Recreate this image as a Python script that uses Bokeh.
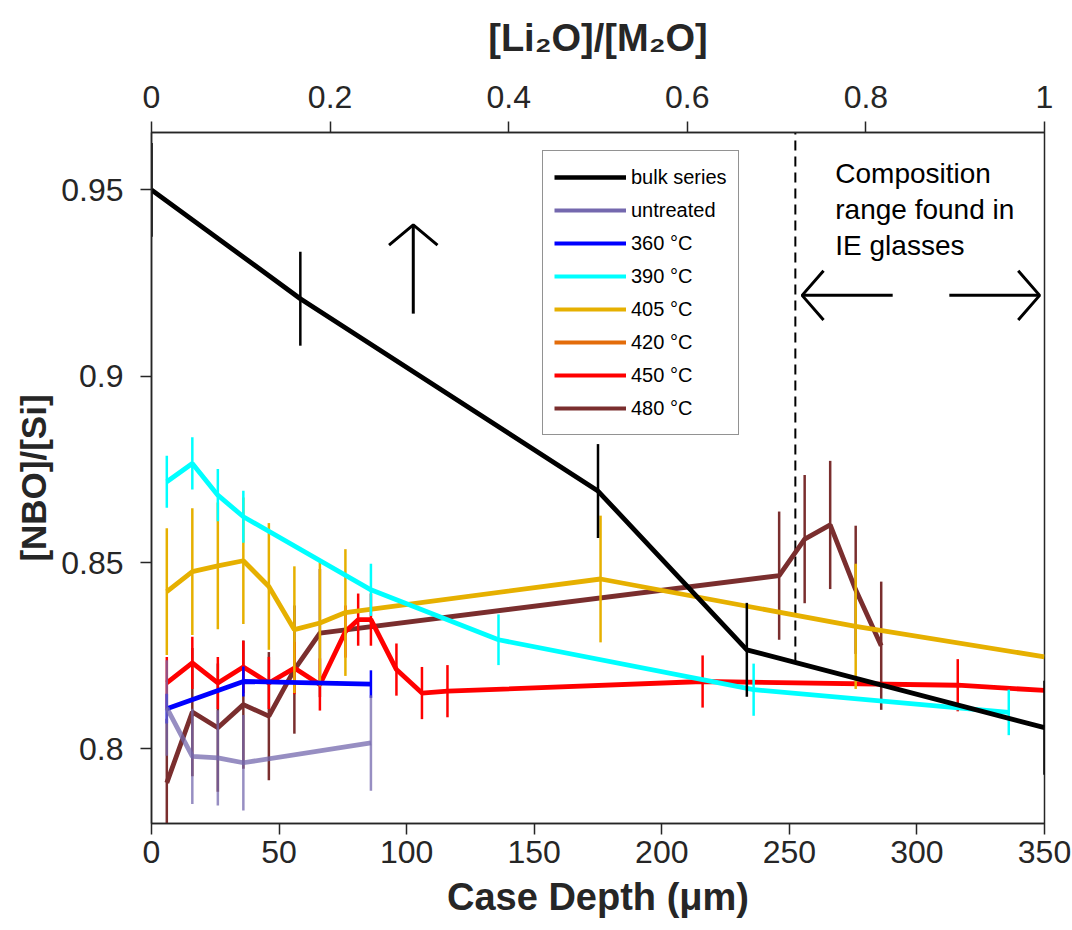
from bokeh.plotting import figure
from bokeh.models import Range1d, LinearAxis, FixedTicker, ColumnDataSource, Legend, LegendItem
from bokeh.embed import file_html
from bokeh.resources import INLINE
from bokeh.core.properties import value

FONT = "Liberation Sans"

# ---------------- data ----------------
# bulk series is plotted against the top axis ([Li2O]/[M2O])
bulk_ratio = [0.0, 1/6, 0.5, 2/3, 1.0]
bulk_y = [0.9500, 0.9208, 0.8692, 0.8266, 0.8057]
bulk_err = [0.0126, 0.0126, 0.0126, 0.0126, 0.0126]

untreated_x = [6, 16, 26, 36, 86]
untreated_y = [0.8110, 0.7980, 0.7976, 0.7963, 0.8016]
untreated_err = [0.0128, 0.0128, 0.0128, 0.0128, 0.0128]

t360_x = [6, 36, 86]
t360_y = [0.8108, 0.8181, 0.8174]
t360_err = [0.004, 0.004, 0.0037]

t390_x = [6, 16, 26, 36, 86, 136, 236, 336]
t390_y = [0.8717, 0.8766, 0.8681, 0.8623, 0.8427, 0.8293, 0.8159, 0.8098]
t390_err = [0.007, 0.007, 0.007, 0.007, 0.007, 0.0068, 0.007, 0.0061]

t405_x = [6, 16, 26, 36, 46, 56, 66, 76, 176, 276, 350]
t405_y = [0.8422, 0.8476, 0.8491, 0.8505, 0.8436, 0.8320, 0.8338, 0.8366, 0.8456, 0.8329, 0.8247]
t405_err = [0.017, 0.017, 0.017, 0.017, 0.017, 0.017, 0.017, 0.017, 0.017, 0.0168, 0.0]

t420_x = []
t420_y = []
t420_err = []

t450_x = [6, 16, 26, 36, 46, 56, 66, 76, 81, 86, 96, 106, 116, 216, 316, 350]
t450_y = [0.8177, 0.8231, 0.8177, 0.8220, 0.8177, 0.8217, 0.8173, 0.8315, 0.8347, 0.8347,
          0.8213, 0.8150, 0.8155, 0.8181, 0.8171, 0.8157]
t450_err = [0.007] * 15 + [0.0]

t480_x = [6, 16, 26, 36, 46, 56, 66, 246, 256, 266, 276, 286]
t480_y = [0.7909, 0.8099, 0.8057, 0.8119, 0.8088, 0.8213, 0.8311, 0.8465, 0.8563, 0.8601, 0.8427, 0.8277]
t480_err = [0.0172] * 12

legend_labels = ["bulk series", "untreated", "360 °C", "390 °C", "405 °C", "420 °C", "450 °C", "480 °C"]
legend_colors = ["#000000", "#7468AE", "#0000FF", "#00FFFF", "#E6B000", "#E36C0A", "#FF0000", "#7A2E2E"]

x_ticks = [0, 50, 100, 150, 200, 250, 300, 350]
top_ticks = [0, 0.2, 0.4, 0.6, 0.8, 1.0]
top_tick_labels = ["0", "0.2", "0.4", "0.6", "0.8", "1"]
y_ticks = [0.8, 0.85, 0.9, 0.95]
y_tick_labels = ["0.8", "0.85", "0.9", "0.95"]

# annotations (data coordinates)
dash_ratio = 0.721
dash_y0 = 0.8232
annot_lines = ["Composition", "range found in", "IE glasses"]
annot_x = 268.0
annot_y = [0.9543, 0.9447, 0.9351]
up_arrow = dict(x=102.6, y0=0.9168, y1=0.9406, wing_dx=9.5, wing_dy=0.0054)
left_arrow = dict(tip=255.0, tail=290.5, y=0.9217, wing_dx=8.4, wing_dy=0.0066)
right_arrow = dict(tail=312.7, tip=348.1, y=0.9217, wing_dx=8.4, wing_dy=0.0066)

X_MAX = 350
Y_MIN, Y_MAX = 0.78, 0.9654

LINE_W = 4.8
BAR_W = 2.5

# ---------------- figure ----------------
p = figure(width=1072, height=930, output_backend="svg", toolbar_location=None,
           x_range=Range1d(0, X_MAX), y_range=Range1d(Y_MIN, Y_MAX),
           min_border_left=151, min_border_right=28, min_border_top=132, min_border_bottom=107)
p.extra_x_ranges = {"top": Range1d(0, 1)}
p.xgrid.visible = False
p.ygrid.visible = False
p.outline_line_color = "#262626"
p.outline_line_width = 1.5
p.background_fill_color = "white"
p.border_fill_color = "white"

bottom_axis = p.below[0]
left_axis = p.left[0]

top_axis = LinearAxis(x_range_name="top", ticker=FixedTicker(ticks=top_ticks),
                      axis_label="[Li₂O]/[M₂O]")
p.add_layout(top_axis, "above")
top_axis.major_label_overrides = {t: l for t, l in zip(top_ticks, top_tick_labels)}

bottom_axis.ticker = FixedTicker(ticks=x_ticks)
bottom_axis.axis_label = "Case Depth (μm)"
left_axis.ticker = FixedTicker(ticks=y_ticks)
left_axis.major_label_overrides = {t: l for t, l in zip(y_ticks, y_tick_labels)}
left_axis.axis_label = "[NBO]/[Si]"

for ax in (top_axis, bottom_axis, left_axis):
    ax.axis_line_color = "#262626"
    ax.axis_line_width = 1.5
    ax.major_tick_line_color = "#262626"
    ax.major_tick_line_width = 1.5
    ax.major_tick_out = 11
    ax.major_tick_in = 0
    ax.minor_tick_out = 0
    ax.minor_tick_in = 0
    ax.major_label_text_font = FONT
    ax.major_label_text_font_size = "32px"
    ax.major_label_text_color = "#262626"
    ax.axis_label_text_font = FONT
    ax.axis_label_text_font_style = "bold"
    ax.axis_label_text_color = "#262626"

top_axis.major_label_standoff = 14
top_axis.axis_label_standoff = 24
top_axis.axis_label_text_font_size = "38px"
bottom_axis.major_label_standoff = 6
bottom_axis.axis_label_standoff = 10
bottom_axis.axis_label_text_font_size = "38px"
left_axis.major_label_standoff = 17
left_axis.axis_label_standoff = 5
left_axis.axis_label_text_font_size = "35px"

# dashed vertical line
p.segment(x0=[dash_ratio], y0=[dash_y0], x1=[dash_ratio], y1=[Y_MAX], x_range_name="top",
          line_color="black", line_width=2, line_dash="10 6")

series = {
    "untreated": (untreated_x, untreated_y, untreated_err, legend_colors[1], 0.75),
    "480": (t480_x, t480_y, t480_err, legend_colors[7], 1.0),
    "450": (t450_x, t450_y, t450_err, legend_colors[6], 1.0),
    "420": (t420_x, t420_y, t420_err, legend_colors[5], 1.0),
    "405": (t405_x, t405_y, t405_err, legend_colors[4], 1.0),
    "390": (t390_x, t390_y, t390_err, legend_colors[3], 1.0),
    "360": (t360_x, t360_y, t360_err, legend_colors[2], 1.0),
}
# draw order: brown, red, orange, gold, cyan, blue, purple, then bulk on top
order = ["480", "450", "420", "405", "390", "360", "untreated"]
for key in order:
    xs, ys, es, col, alpha = series[key]
    if not xs:
        continue
    src = ColumnDataSource(dict(x=xs, y=ys, lo=[a - b for a, b in zip(ys, es)],
                                hi=[a + b for a, b in zip(ys, es)]))
    p.segment(x0="x", y0="lo", x1="x", y1="hi", source=src, line_color=col,
              line_alpha=alpha, line_width=BAR_W, line_cap="butt")
    p.line(x="x", y="y", source=src, line_color=col, line_alpha=alpha, line_width=LINE_W)

bsrc = ColumnDataSource(dict(x=bulk_ratio, y=bulk_y, lo=[a - b for a, b in zip(bulk_y, bulk_err)],
                             hi=[a + b for a, b in zip(bulk_y, bulk_err)]))
p.segment(x0="x", y0="lo", x1="x", y1="hi", source=bsrc, x_range_name="top",
          line_color="black", line_width=BAR_W, line_cap="butt")
p.line(x="x", y="y", source=bsrc, x_range_name="top", line_color="black", line_width=LINE_W)

# arrows
ua = up_arrow
la = left_arrow
ra = right_arrow
arrow_xs = [
    [ua["x"], ua["x"]],
    [ua["x"] - ua["wing_dx"], ua["x"], ua["x"] + ua["wing_dx"]],
    [la["tip"], la["tail"]],
    [la["tip"] + la["wing_dx"], la["tip"], la["tip"] + la["wing_dx"]],
    [ra["tail"], ra["tip"]],
    [ra["tip"] - ra["wing_dx"], ra["tip"], ra["tip"] - ra["wing_dx"]],
]
arrow_ys = [
    [ua["y0"], ua["y1"]],
    [ua["y1"] - ua["wing_dy"], ua["y1"], ua["y1"] - ua["wing_dy"]],
    [la["y"], la["y"]],
    [la["y"] + la["wing_dy"], la["y"], la["y"] - la["wing_dy"]],
    [ra["y"], ra["y"]],
    [ra["y"] + ra["wing_dy"], ra["y"], ra["y"] - ra["wing_dy"]],
]
p.multi_line(xs=arrow_xs, ys=arrow_ys, line_color="black", line_width=3)

p.text(x=[annot_x] * len(annot_lines), y=annot_y, text=annot_lines,
       text_font=value(FONT), text_font_size="28px", text_baseline="middle",
       text_align="left", text_color="black")

# legend (proxy renderers placed outside the visible ranges)
items = []
for lab, col in zip(legend_labels, legend_colors):
    w = 4.5 if lab == "bulk series" else 3.8
    r = p.line(x=[-100, -90], y=[0.5, 0.5], line_color=col, line_width=w)
    items.append(LegendItem(label=lab, renderers=[r]))
legend = Legend(items=items, location=(391, 388), border_line_color="#262626",
                border_line_width=1.5, background_fill_color="white", background_fill_alpha=1.0,
                label_text_font=FONT, label_text_font_size="20px", label_text_color="black",
                glyph_width=72, glyph_height=30, spacing=3, padding=11, label_standoff=5,
                margin=0)
p.add_layout(legend, "center")

open("out.html", "w").write(file_html(p, INLINE))
